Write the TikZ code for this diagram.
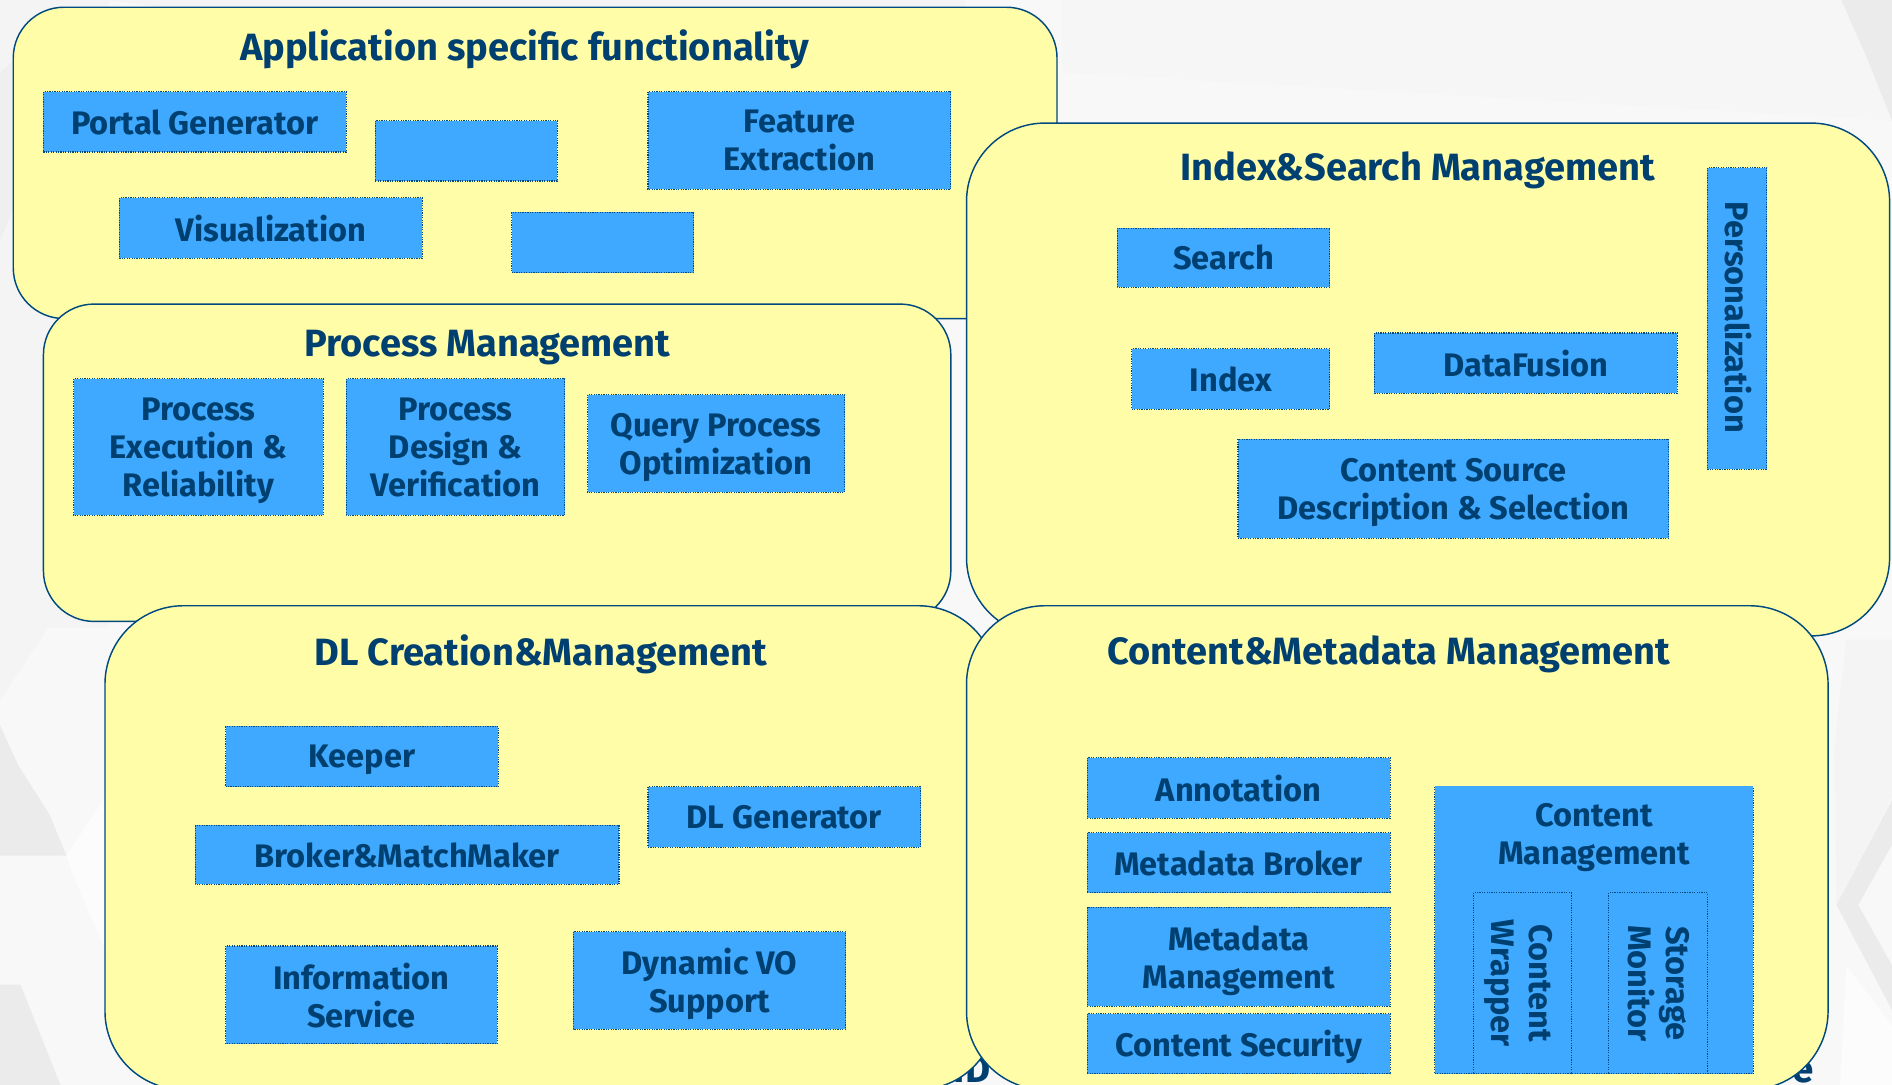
\documentclass[tikz,border=0pt]{standalone}
\usepackage{fontspec}
\setmainfont{Fira Sans}
\definecolor{panelfill}{HTML}{FFFDA8}
\definecolor{panelline}{HTML}{004A80}
\definecolor{boxfill}{HTML}{3FA9FF}
\definecolor{inktext}{HTML}{004070}
\definecolor{pagebg}{HTML}{F8F8F9}
\definecolor{hexa}{HTML}{F4F4F5}
\definecolor{hexb}{HTML}{EBEBEC}
\definecolor{hexw}{HTML}{FCFCFC}
\tikzset{
  x=1pt,y=-1pt,
  panel/.style={draw=panelline,fill=panelfill,line width=1.2pt},
  paneltitle/.style={font=\bfseries\fontsize{31.5}{36}\selectfont,text=inktext,inner sep=0pt,yshift=-3pt,
    execute at begin node=\vphantom{Ay}},
  blockbox/.style={draw=panelline,dash pattern=on 1pt off 1pt,line width=0.9pt,fill=boxfill},
  blocktext/.style={font=\bfseries\fontsize{27}{31.5}\selectfont,text=inktext,align=center,inner sep=0pt,yshift=-3pt,
    execute at begin node=\vphantom{Ay},execute at end node=\vphantom{Ay}},
  sidetext/.style={blocktext,yshift=3pt,rotate=-90},
  bgtext/.style={font=\bfseries\fontsize{32}{36}\selectfont,text=inktext,inner sep=0pt},
}
\newcommand{\blk}[6]{%
  \draw[blockbox] (#2,#3) rectangle (#4,#5);
  \node[blocktext] (#1) at ({(#2+#4)/2},{(#3+#5)/2}) {#6};}
\newcommand{\pnl}[5]{%
  \draw[panel,rounded corners=#5pt] (#1,#2) rectangle (#3,#4);}
\begin{document}
\begin{tikzpicture}
\useasboundingbox (0,0) rectangle (1568,899);
\begin{scope}
\clip (0,0) rectangle (1568,899);
\fill[pagebg] (0,0) rectangle (1568,899);
% faint background texture
\fill[hexa] (0,0) -- (90,0) -- (90,520) -- (40,520) -- (0,580) -- cycle;
\fill[hexa] (90,0) -- (800,0) -- (800,100) -- cycle;
\fill[hexa!50!pagebg] (880,0) -- (1568,0) -- (1568,100) -- (880,60) -- cycle;
\fill[hexb!60!hexa] (0,60) -- (12,50) -- (12,170) -- (0,200) -- cycle;
\fill[hexb] (0,601) -- (15,634) -- (41,675) -- (55,709) -- (0,709) -- cycle;
\fill[hexw] (55,709) -- (91,655) -- (91,796) -- (62,729) -- cycle;
\fill[hexb] (0,816) -- (17,816) -- (50,899) -- (0,899) -- cycle;
\fill[hexb] (1526,0) -- (1568,0) -- (1568,100) -- (1548,50) -- cycle;
\fill[hexa] (1568,530) -- (1530,530) -- (1520,620) -- (1522,750) -- (1568,660) -- cycle;
\fill[hexb] (1568,663) -- (1522,750) -- (1568,837) -- (1568,800) -- (1540,750) -- (1568,700) -- cycle;
\fill[hexw] (1530,800) -- (1568,850) -- (1568,899) -- (1525,899) -- cycle;
% fragments of the text lying behind the panels
\node[bgtext,anchor=base east] (bgd) at (821,897) {ID};
\node[bgtext,anchor=base east] (bge) at (1503,897) {e};
\end{scope}
% panels, back to front
\pnl{11}{6}{876}{264}{42}
\node[paneltitle] (t1) at (435,38) {Application specific functionality};
\blk{a1}{36}{76}{287}{126}{Portal Generator}
\blk{a2}{311}{100}{462}{150}{}
\blk{a3}{537}{76}{788}{157}{Feature\\Extraction}
\blk{a4}{99}{164}{350}{214}{Visualization}
\blk{a5}{424}{176}{575}{226}{}
\pnl{801}{102}{1566}{527}{65}
\node[paneltitle] (t2) at (1175,138) {Index\&Search Management};
\blk{i1}{926}{189}{1102}{238}{Search}
\blk{i2}{938}{289}{1102}{339}{Index}
\blk{i3}{1139}{276}{1390}{326}{DataFusion}
\blk{i4}{1026}{364}{1383}{446}{Content Source\\Description \& Selection}
\draw[blockbox] (1415,139) rectangle (1464,389);
\node[sidetext] (i5) at (1438,263) {Personalization};
\pnl{36}{252}{788}{515}{42}
\node[paneltitle] (t3) at (404,285) {Process Management};
\blk{p1}{61}{314}{268}{427}{Process\\Execution \&\\Reliability}
\blk{p2}{287}{314}{468}{427}{Process\\Design \&\\Verification}
\blk{p3}{487}{327}{700}{408}{Query Process\\Optimization}
\pnl{87}{502}{826}{903}{65}
\node[paneltitle] (t4) at (448,539) {DL Creation\&Management};
\blk{d1}{187}{602}{413}{652}{Keeper}
\blk{d2}{162}{684}{513}{733}{Broker\&MatchMaker}
\blk{d3}{537}{652}{763}{702}{DL Generator}
\blk{d4}{187}{784}{412}{865}{Information\\Service}
\blk{d5}{475}{772}{701}{853}{Dynamic VO\\Support}
\pnl{801}{502}{1515}{903}{65}
\node[paneltitle] (t5) at (1151,539) {Content\&Metadata Management};
\blk{c1}{901}{628}{1152}{678}{Annotation}
\blk{c2}{901}{690}{1152}{740}{Metadata Broker}
\blk{c3}{901}{752}{1152}{834}{Metadata\\Management}
\blk{c4}{901}{840}{1152}{890}{Content Security}
\fill[boxfill] (1189,651.5) rectangle (1453,890);
\draw[blockbox,fill=none] (1189,652) -- (1189,890) -- (1453,890) -- (1453,652);
\node[blocktext] (c5) at (1321,691) {Content\\Management};
\draw[blockbox] (1221,740) rectangle (1302,890);
\node[sidetext] (c6) at (1258,815) {Content\\Wrapper};
\draw[blockbox] (1333,740) rectangle (1415,890);
\node[sidetext] (c7) at (1372,815) {Storage\\Monitor};
\end{tikzpicture}
\end{document}
